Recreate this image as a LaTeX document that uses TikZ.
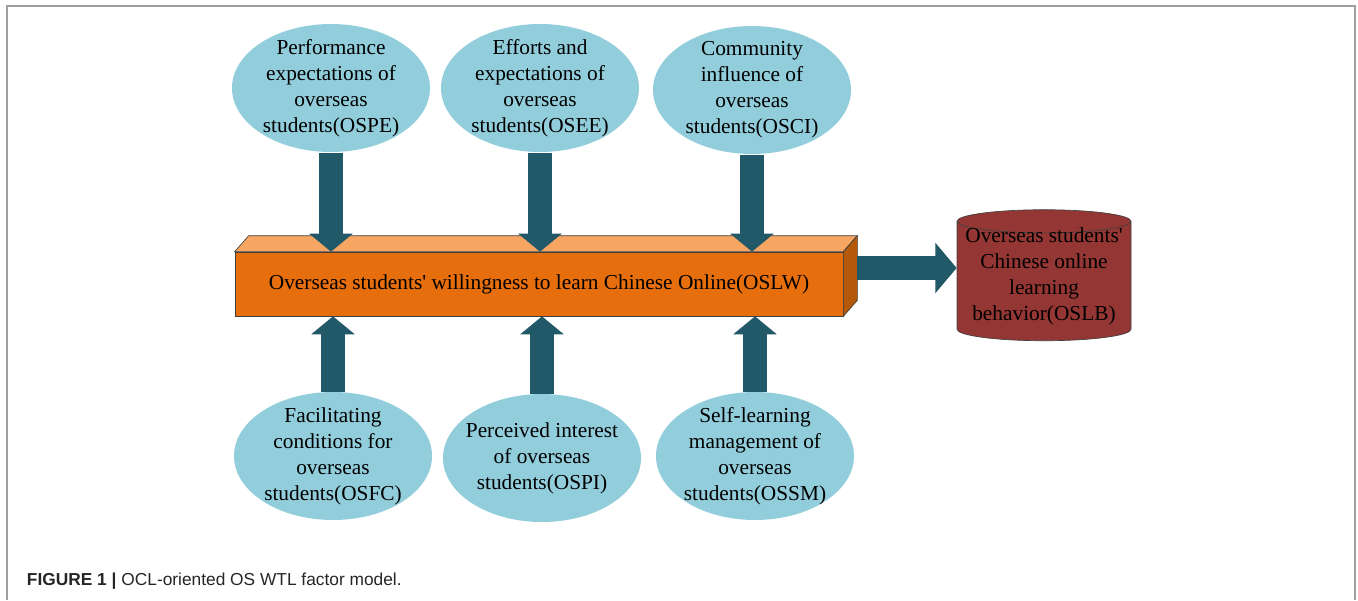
\documentclass[tikz,border=0pt]{standalone}
\usepackage{fontspec}
\setmainfont{Liberation Serif}
\newfontfamily\capfont{Liberation Sans}
\usetikzlibrary{shapes.geometric,arrows.meta}

\definecolor{factorblue}{RGB}{146,205,220}
\definecolor{arrowteal}{RGB}{33,89,104}
\definecolor{barfront}{RGB}{230,110,12}
\definecolor{bartop}{RGB}{246,166,98}
\definecolor{barside}{RGB}{180,88,10}
\definecolor{behavred}{RGB}{148,54,52}

\tikzset{every picture/.style={line width=0.75pt}}

\begin{document}
\begin{tikzpicture}[x=0.75pt,y=0.75pt,yscale=-1,xscale=1,
  factor/.style={ellipse, fill=factorblue, inner xsep=-5pt, inner ysep=-4pt,
    minimum width=148.5pt, minimum height=96pt, align=center,
    font=\fontsize{16}{19.5}\selectfont},
  blockarrow/.style={draw=arrowteal, line width=18pt, -{Triangle[length=13.5pt,width=32pt]}},
  facedraw/.style={draw=black!75, line width=0.5pt}]
\useasboundingbox (0,0) rectangle (1358,600);

%Frame
\draw [gray!75, line width=1.5pt] (7,600) -- (7,6) -- (1355,6) -- (1355,600);

%Shape: Box front (OSLW)
\node [facedraw, fill=barfront, minimum width=456pt, minimum height=48pt, inner sep=0pt,
  font=\fontsize{16}{19.5}\selectfont] (oslw) at (539,284)
  {Overseas students\textquotesingle{} willingness to learn Chinese Online(OSLW)};
%Shape: Box top
\draw [facedraw, fill=bartop] (oslw.north west) -- ++(14,-16) -- ([shift={(14,-16)}]oslw.north east) -- (oslw.north east) -- cycle ;
%Shape: Box side
\draw [facedraw, fill=barside] (oslw.north east) -- ++(14,-16) -- ([shift={(14,-16)}]oslw.south east) -- (oslw.south east) -- cycle ;
\coordinate (side) at ([shift={(14,-16)}]oslw.east);

%Shape: Can (OSLB)
\node [cylinder, shape border rotate=90, aspect=2.6, draw=black!75, line width=0.5pt,
  fill=behavred, minimum width=130.5pt, minimum height=98.25pt] (oslb) at (1044,283) {};
% Text Node
\node [align=center, font=\fontsize{16}{19.5}\selectfont] (oslbtext) at (1044,276)
  {Overseas students\textquotesingle\\Chinese online\\learning\\behavior(OSLB)};

%Shape: Ellipse (top row)
\node [factor] (ospe) at (331,88) {Performance\\expectations of\\overseas\\students(OSPE)};
\node [factor] (osee) at (540,88) {Efforts and\\expectations of\\overseas\\students(OSEE)};
\node [factor] (osci) at (752,90) {Community\\influence of\\overseas\\students(OSCI)};

%Shape: Ellipse (bottom row)
\node [factor] (osfc) at (333,456) {Facilitating\\conditions for\\overseas\\students(OSFC)};
\node [factor] (ospi) at (542,458) {Perceived interest\\of overseas\\students(OSPI)};
\node [factor] (ossm) at (755,456) {Self-learning\\management of\\overseas\\students(OSSM)};

%Arrows
\draw [blockarrow] (ospe.south) -- (ospe.south |- oslw.north);
\draw [blockarrow] (osee.south) -- (osee.south |- oslw.north);
\draw [blockarrow] (osci.south) -- (osci.south |- oslw.north);
\draw [blockarrow] (osfc.north) -- (osfc.north |- oslw.south);
\draw [blockarrow] (ospi.north) -- (ospi.north |- oslw.south);
\draw [blockarrow] (ossm.north) -- (ossm.north |- oslw.south);
\draw [blockarrow, -{Triangle[length=16pt,width=37pt]}] (side) -- (side -| oslb.west);

% Text Node
\node [anchor=base west, font=\capfont\fontsize{13}{15}\selectfont, text=black!85] (caption) at (22,585)
  {\textbf{FIGURE 1 |} OCL-oriented OS WTL factor model.};

\end{tikzpicture}
\end{document}
